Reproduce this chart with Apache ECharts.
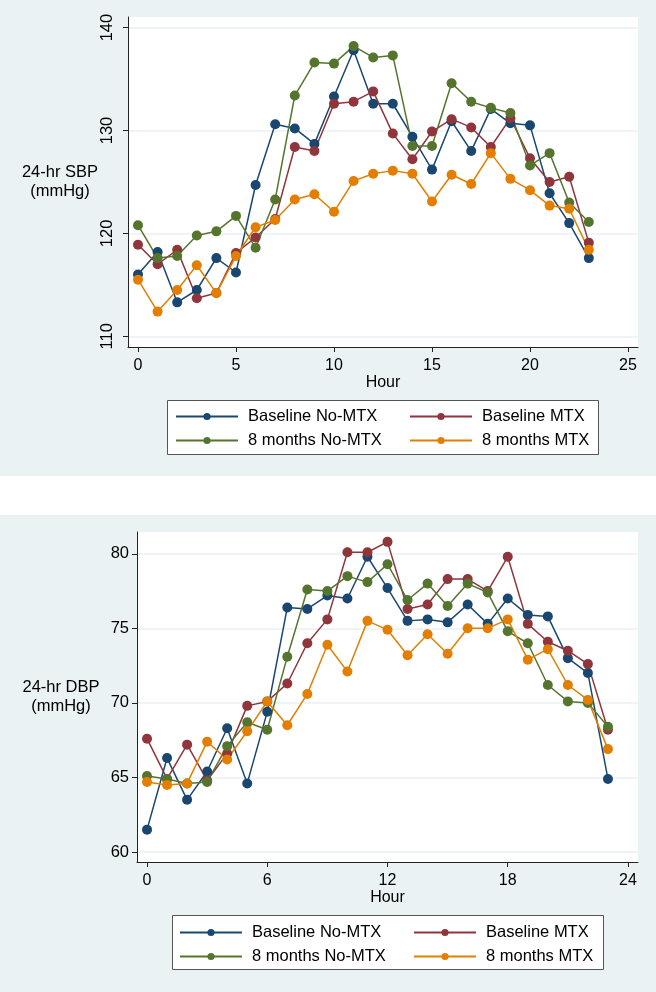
<!DOCTYPE html>
<html>
<head>
<meta charset="utf-8">
<script src="https://cdn.jsdelivr.net/npm/echarts@6/dist/echarts.min.js"></script>
<style>
  html, body { margin: 0; padding: 0; background: #fff; }
  #chart { width: 656px; height: 992px; }
</style>
</head>
<body>
<div id="chart"></div>
<script>
const hours = [0, 1, 2, 3, 4, 5, 6, 7, 8, 9, 10, 11, 12, 13, 14, 15, 16, 17, 18, 19, 20, 21, 22, 23]
const seriesNames = ['Baseline No-MTX', 'Baseline MTX', '8 months No-MTX', '8 months MTX']
const colors = ['#1a476f', '#90353b', '#55752f', '#e37e00']

const sbpBaseNoMtx = [116.0, 118.2, 113.3, 114.5, 117.6, 116.2, 124.7, 130.6, 130.2, 128.7, 133.3, 137.8, 132.6, 132.6, 129.4, 126.2, 130.9, 128.0, 132.1, 130.7, 130.5, 123.9, 121.0, 117.6]
const sbpBaseMtx = [118.9, 117.0, 118.4, 113.7, 114.2, 118.1, 119.6, 121.4, 128.4, 128.0, 132.6, 132.8, 133.8, 129.7, 127.2, 129.9, 131.1, 130.3, 128.4, 131.2, 127.3, 125.0, 125.5, 119.1]
const sbp8NoMtx = [120.8, 117.6, 117.8, 119.8, 120.2, 121.7, 118.6, 123.3, 133.4, 136.6, 136.5, 138.2, 137.1, 137.3, 128.5, 128.5, 134.6, 132.8, 132.2, 131.7, 126.6, 127.8, 123.0, 121.1]
const sbp8Mtx = [115.5, 112.4, 114.5, 116.9, 114.2, 117.8, 120.6, 121.3, 123.3, 123.8, 122.1, 125.1, 125.8, 126.1, 125.8, 123.1, 125.7, 124.8, 127.8, 125.3, 124.2, 122.7, 122.4, 118.4]

const dbpBaseNoMtx = [61.5, 66.3, 63.5, 65.4, 68.3, 64.6, 69.4, 76.4, 76.3, 77.2, 77.0, 79.8, 77.7, 75.5, 75.6, 75.4, 76.6, 75.3, 77.0, 75.9, 75.8, 73.0, 72.0, 64.9]
const dbpBaseMtx = [67.6, 64.9, 67.2, 64.8, 66.6, 69.8, 70.1, 71.3, 74.0, 75.6, 80.1, 80.1, 80.8, 76.3, 76.6, 78.3, 78.3, 77.5, 79.8, 75.3, 74.1, 73.5, 72.6, 68.2]
const dbp8NoMtx = [65.1, 64.9, 64.6, 64.7, 67.1, 68.7, 68.2, 73.1, 77.6, 77.5, 78.5, 78.1, 79.3, 76.9, 78.0, 76.5, 78.0, 77.4, 74.8, 74.0, 71.2, 70.1, 70.0, 68.4]
const dbp8Mtx = [64.7, 64.5, 64.6, 67.4, 66.2, 68.1, 70.1, 68.5, 70.6, 73.9, 72.1, 75.5, 74.9, 73.2, 74.6, 73.3, 75.0, 75.0, 75.6, 72.9, 73.6, 71.2, 70.2, 66.9]

const sbpTicksX = [0, 5, 10, 15, 20, 25]
const sbpTicksY = [110, 120, 130, 140]
const dbpTicksX = [0, 6, 12, 18, 24]
const dbpTicksY = [60, 65, 70, 75, 80]

const sbpSets = [sbpBaseNoMtx, sbpBaseMtx, sbp8NoMtx, sbp8Mtx]
const dbpSets = [dbpBaseNoMtx, dbpBaseMtx, dbp8NoMtx, dbp8Mtx]

const font = 'Liberation Sans, Arial, sans-serif'
const bg = '#eaf2f3'
const axisColor = '#222'

const chart = echarts.init(document.getElementById('chart'))

function xAxisFor(grid, min, max, ticks) {
  return {
    type: 'value', gridIndex: grid, min: min, max: max,
    name: 'Hour', nameLocation: 'middle', nameGap: 28,
    nameTextStyle: { fontSize: 16, color: '#000', fontFamily: font },
    axisLine: { show: true, onZero: false, lineStyle: { color: axisColor, width: 1 } },
    axisTick: { show: true, length: 5, customValues: ticks, lineStyle: { color: axisColor } },
    axisLabel: { customValues: ticks, margin: 11, fontSize: 16, color: '#000', fontFamily: font },
    splitLine: { show: false }
  }
}

function yAxisFor(grid, min, max, ticks, rotate) {
  return {
    type: 'value', gridIndex: grid, min: min, max: max,
    axisLine: { show: true, onZero: false, lineStyle: { color: axisColor, width: 1 } },
    axisTick: { show: true, length: 5, customValues: ticks, lineStyle: { color: axisColor } },
    axisLabel: { customValues: ticks, rotate: rotate, margin: rotate ? 12 : 8, fontSize: 16.5, color: '#000', fontFamily: font },
    splitLine: { show: true, lineStyle: { color: bg, width: 1.5 } }
  }
}

const series = []
sbpSets.forEach((vals, i) => {
  series.push({
    name: seriesNames[i], type: 'line', xAxisIndex: 0, yAxisIndex: 0,
    data: hours.map((h, k) => [h, vals[k]]),
    symbol: 'circle', symbolSize: 10,
    lineStyle: { color: colors[i], width: 1.5 },
    itemStyle: { color: colors[i] },
    animation: false
  })
})
dbpSets.forEach((vals, i) => {
  series.push({
    name: seriesNames[i], type: 'line', xAxisIndex: 1, yAxisIndex: 1,
    data: hours.map((h, k) => [h, vals[k]]),
    symbol: 'circle', symbolSize: 10,
    lineStyle: { color: colors[i], width: 1.5 },
    itemStyle: { color: colors[i] },
    animation: false
  })
})

// one legend per column so both columns line up like the original
function legendCol(left, top, names) {
  return {
    left: left, top: top,
    orient: 'vertical',
    padding: 0,
    itemGap: 7, itemWidth: 62, itemHeight: 9,
    textStyle: { fontSize: 16.5, color: '#000', fontFamily: font, padding: [0, 0, 0, 5] },
    data: names
  }
}

chart.setOption({
  animation: false,
  textStyle: { fontFamily: font },
  graphic: [
    { type: 'rect', z: -100, shape: { x: 0, y: 0, width: 656, height: 476 }, style: { fill: bg } },
    { type: 'rect', z: -100, shape: { x: 0, y: 515, width: 656, height: 477 }, style: { fill: bg } },
    { type: 'rect', z: -50, shape: { x: 167.5, y: 400.5, width: 431, height: 54 }, style: { fill: '#fff', stroke: '#555', lineWidth: 1 } },
    { type: 'rect', z: -50, shape: { x: 172.5, y: 915.5, width: 431, height: 54 }, style: { fill: '#fff', stroke: '#555', lineWidth: 1 } },
    { type: 'text', z: 10, style: { x: 60, y: 182, text: '24-hr SBP\n(mmHg)', fontSize: 16.5, lineHeight: 19, fill: '#000', fontFamily: font, textAlign: 'center', textVerticalAlign: 'middle' } },
    { type: 'text', z: 10, style: { x: 61, y: 697, text: '24-hr DBP\n(mmHg)', fontSize: 16.5, lineHeight: 19, fill: '#000', fontFamily: font, textAlign: 'center', textVerticalAlign: 'middle' } }
  ],
  grid: [
    { left: 128, top: 17, width: 510, height: 330, show: true, backgroundColor: '#fff', borderWidth: 0, outerBoundsMode: 'none' },
    { left: 137, top: 532, width: 501, height: 330, show: true, backgroundColor: '#fff', borderWidth: 0, outerBoundsMode: 'none' }
  ],
  xAxis: [
    xAxisFor(0, -0.51, 25.51, sbpTicksX),
    xAxisFor(1, -0.5, 24.5, dbpTicksX)
  ],
  yAxis: [
    yAxisFor(0, 108.96, 141.03, sbpTicksY, 90),
    yAxisFor(1, 59.33, 81.46, dbpTicksY, 0)
  ],
  legend: [
    legendCol(175, 408, [seriesNames[0], seriesNames[2]]),
    legendCol(409, 408, [seriesNames[1], seriesNames[3]]),
    legendCol(179, 924, [seriesNames[0], seriesNames[2]]),
    legendCol(413, 924, [seriesNames[1], seriesNames[3]])
  ],
  series: series
})
</script>
</body>
</html>
